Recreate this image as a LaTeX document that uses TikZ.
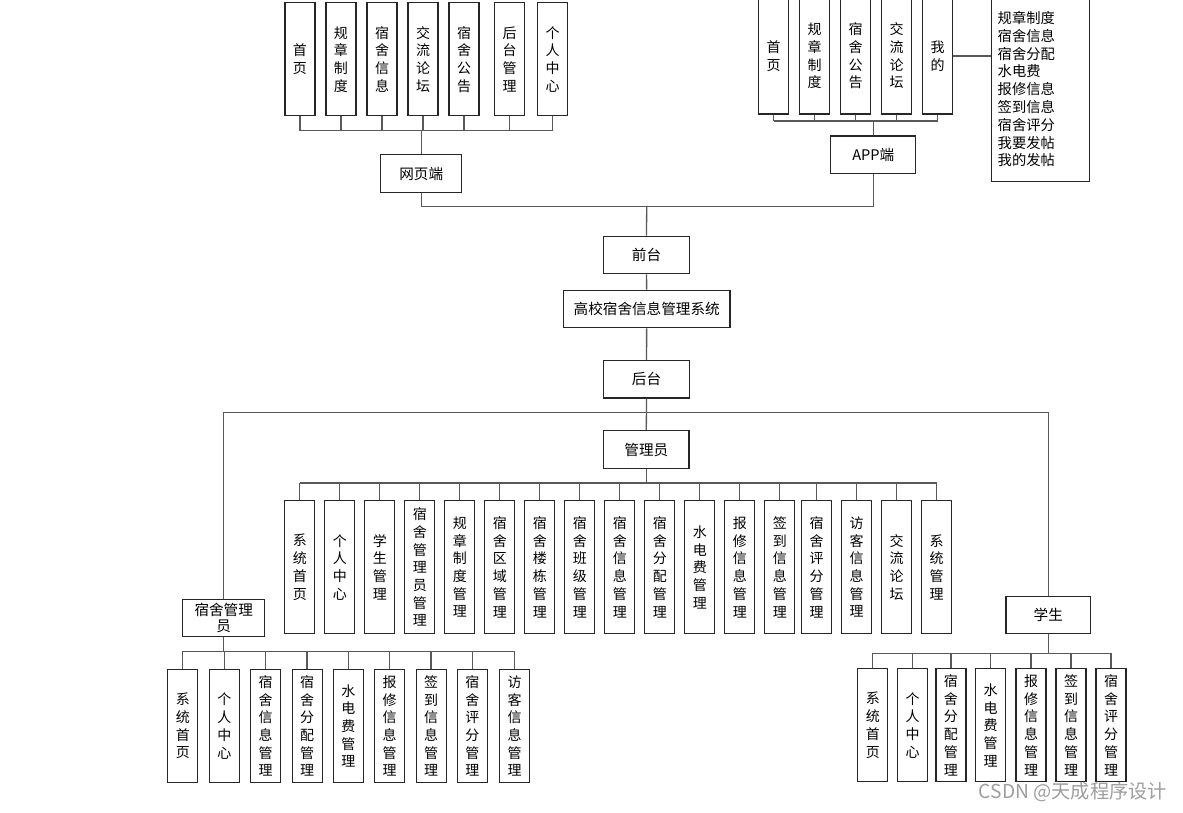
\documentclass[tikz,border=0pt]{standalone}
\usepackage{fontspec}
\newfontfamily\cjk{Noto Sans CJK SC}
\begin{document}
\begin{tikzpicture}[x=1pt,y=-1pt,
  col/.style={draw=black!85, line width=1.2pt, minimum width=30pt, inner sep=0pt,
    align=center, font=\cjk\fontsize{14}{17.7}\selectfont},
  hbox/.style={draw=black!85, line width=1.2pt, minimum height=37.5pt, inner sep=0pt,
    align=center, font=\cjk\fontsize{14.6}{16}\selectfont},
  conn/.style={draw=black!65, line width=1.3pt},
  webcol/.style={col, minimum height=113pt},
  appcol/.style={col, minimum height=116pt},
  admcol/.style={col, minimum height=133pt},
  lowcol/.style={col, minimum height=113pt}]
\fill[white] (0,0) rectangle (1183,812);
\useasboundingbox (0,0) rectangle (1183,812);

% ---------- web front end ----------
\node[webcol] (w1) at (299.9,59.3) {首\\页};
\node[webcol] (w2) at (340.9,59.3) {规\\章\\制\\度};
\node[webcol] (w3) at (382,59.3) {宿\\舍\\信\\息};
\node[webcol] (w4) at (423,59.3) {交\\流\\论\\坛};
\node[webcol] (w5) at (464,59.3) {宿\\舍\\公\\告};
\node[webcol] (w6) at (509.5,59.3) {后\\台\\管\\理};
\node[webcol] (w7) at (552.5,59.3) {个\\人\\中\\心};
\node[hbox, minimum width=81pt] (web) at (421.2,173.5) {网页端};
\coordinate (wbus) at (0,130.7);
\foreach \i in {1,...,7} \draw[conn] (w\i.south) -- (w\i.south |- wbus);
\draw[conn] (w1.south |- wbus) -- (w7.south |- wbus);
\draw[conn] (web.north) -- (web.north |- wbus);

% ---------- app front end ----------
\node[appcol] (p1) at (773.5,56) {首\\页};
\node[appcol] (p2) at (814.5,56) {规\\章\\制\\度};
\node[appcol] (p3) at (855.5,56) {宿\\舍\\公\\告};
\node[appcol] (p4) at (896.5,56) {交\\流\\论\\坛};
\node[appcol] (p5) at (937.5,56) {我\\的};
\node[hbox, minimum width=85pt] (app) at (873.3,154.7) {APP端};
\node[draw=black!85, line width=1.2pt, minimum width=98pt, minimum height=184pt,
  text width=86pt, inner xsep=6pt, inner ysep=0pt, align=left,
  font=\cjk\fontsize{14.3}{17.8}\selectfont] (mine) at (1040.7,89.2)
  {规章制度\\宿舍信息\\宿舍分配\\水电费\\报修信息\\签到信息\\宿舍评分\\我要发帖\\我的发帖};
\coordinate (pbus) at (0,121);
\foreach \i in {1,...,5} \draw[conn] (p\i.south) -- (p\i.south |- pbus);
\draw[conn] (p1.south |- pbus) -- (p5.south |- pbus);
\draw[conn] (app.north) -- (app.north |- pbus);
\draw[conn] (p5.east) -- (p5.east -| mine.west);

% ---------- system spine ----------
\node[hbox, minimum width=85.5pt] (front) at (646.5,255) {前台};
\node[hbox, minimum width=166.5pt] (sys) at (646.7,309) {高校宿舍信息管理系统};
\node[hbox, minimum width=85.5pt] (back) at (646.5,379.3) {后台};
\coordinate (join) at (646.7,206.5);
\draw[conn] (web.south) -- (web.south |- join) -- (app.south |- join) -- (app.south);
\draw[conn] (join) -- (front.north);
\draw[conn] (front) -- (sys);
\draw[conn] (sys) -- (back);

% ---------- roles ----------
\node[hbox, minimum width=85.5pt] (admin) at (646.3,449.5) {管理员};
\node[hbox, minimum width=82pt] (keeper) at (223.7,617.9) {宿舍管理\\员};
\node[hbox, minimum width=84.5pt] (stu) at (1048.3,614.9) {学生};
\coordinate (split) at (646.5,412.5);
\draw[conn] (back.south) -- (admin.north);
\draw[conn] (keeper.north) -- (keeper.north |- split) -- (stu.north |- split) -- (stu.north);

% ---------- administrator functions ----------
\node[admcol] (a1) at (299.8,567.2) {系\\统\\首\\页};
\node[admcol] (a2) at (339.8,567.2) {个\\人\\中\\心};
\node[admcol] (a3) at (379.8,567.2) {学\\生\\管\\理};
\node[admcol] (a4) at (419.8,567.2) {宿\\舍\\管\\理\\员\\管\\理};
\node[admcol] (a5) at (459.8,567.2) {规\\章\\制\\度\\管\\理};
\node[admcol] (a6) at (499.8,567.2) {宿\\舍\\区\\域\\管\\理};
\node[admcol] (a7) at (539.8,567.2) {宿\\舍\\楼\\栋\\管\\理};
\node[admcol] (a8) at (579.8,567.2) {宿\\舍\\班\\级\\管\\理};
\node[admcol] (a9) at (619.8,567.2) {宿\\舍\\信\\息\\管\\理};
\node[admcol] (a10) at (659.8,567.2) {宿\\舍\\分\\配\\管\\理};
\node[admcol] (a11) at (699.8,567.2) {水\\电\\费\\管\\理};
\node[admcol] (a12) at (739.8,567.2) {报\\修\\信\\息\\管\\理};
\node[admcol] (a13) at (779.8,567.2) {签\\到\\信\\息\\管\\理};
\node[admcol] (a14) at (816.5,567.2) {宿\\舍\\评\\分\\管\\理};
\node[admcol] (a15) at (856.5,567.2) {访\\客\\信\\息\\管\\理};
\node[admcol] (a16) at (896.5,567.2) {交\\流\\论\\坛};
\node[admcol] (a17) at (936.5,567.2) {系\\统\\管\\理};
\coordinate (abus) at (0,483);
\draw[conn] (admin.south) -- (admin.south |- abus);
\draw[conn] (a1.north |- abus) -- (a17.north |- abus);
\foreach \i in {1,...,17} \draw[conn] (a\i.north) -- (a\i.north |- abus);

% ---------- dormitory keeper functions ----------
\node[lowcol] (k1) at (182.8,726) {系\\统\\首\\页};
\node[lowcol] (k2) at (224.4,726) {个\\人\\中\\心};
\node[lowcol] (k3) at (265.7,726) {宿\\舍\\信\\息\\管\\理};
\node[lowcol] (k4) at (307.1,726) {宿\\舍\\分\\配\\管\\理};
\node[lowcol] (k5) at (348.4,726) {水\\电\\费\\管\\理};
\node[lowcol] (k6) at (389.7,726) {报\\修\\信\\息\\管\\理};
\node[lowcol] (k7) at (431.1,726) {签\\到\\信\\息\\管\\理};
\node[lowcol] (k8) at (472.4,726) {宿\\舍\\评\\分\\管\\理};
\node[lowcol] (k9) at (514.5,726) {访\\客\\信\\息\\管\\理};
\coordinate (kbus) at (0,651.3);
\draw[conn] (keeper.south) -- (keeper.south |- kbus);
\draw[conn] (k1.north |- kbus) -- (k9.north |- kbus);
\foreach \i in {1,...,9} \draw[conn] (k\i.north) -- (k\i.north |- kbus);

% ---------- student functions ----------
\node[lowcol] (s1) at (872.8,725.2) {系\\统\\首\\页};
\node[lowcol] (s2) at (912.7,725.2) {个\\人\\中\\心};
\node[lowcol] (s3) at (950.9,725.2) {宿\\舍\\分\\配\\管\\理};
\node[lowcol] (s4) at (990.7,725.2) {水\\电\\费\\管\\理};
\node[lowcol] (s5) at (1031,725.2) {报\\修\\信\\息\\管\\理};
\node[lowcol] (s6) at (1071,725.2) {签\\到\\信\\息\\管\\理};
\node[lowcol] (s7) at (1111,725.2) {宿\\舍\\评\\分\\管\\理};
\coordinate (sbus) at (0,653.3);
\draw[conn] (stu.south) -- (stu.south |- sbus);
\draw[conn] (s1.north |- sbus) -- (s7.north |- sbus);
\foreach \i in {1,...,7} \draw[conn] (s\i.north) -- (s\i.north |- sbus);

% ---------- signature ----------
\node[anchor=east, inner sep=0pt, text=black!38, font=\cjk\fontsize{19.2}{22}\selectfont]
  (mark) at (1167,792) {CSDN @天成程序设计};
\end{tikzpicture}
\end{document}
